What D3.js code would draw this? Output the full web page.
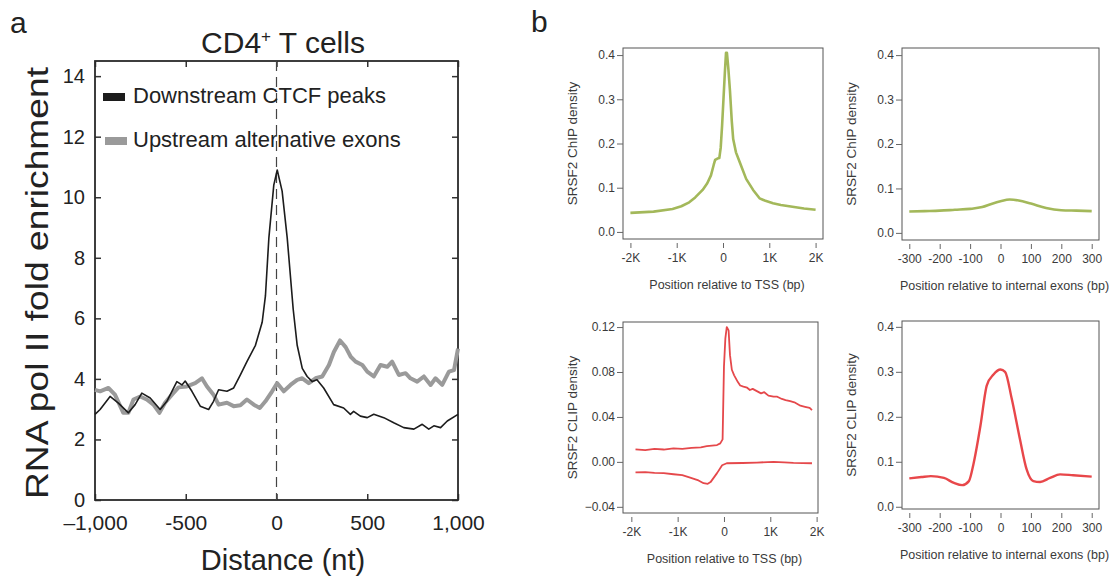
<!DOCTYPE html>
<meta charset="utf-8">
<style>
body { margin: 0; background: #fff; }
svg { font-family: "Liberation Sans", Arial, Helvetica, sans-serif; }
.pa text { fill: #222; }
.pb text { fill: #3a3a3a; }
</style>
<svg width="1110" height="579"></svg>
<script src="https://d3js.org/d3.v7.min.js"></script>
<script>

// ---- panel a: RNA pol II enrichment, CD4+ T cells ----
var ctcfPeaks = [
  [-1000,2.83],[-972,2.99],[-917,3.42],[-871,3.2],[-816,2.88],[-779,3.15],[-742,3.53],[-696,3.37],
  [-641,2.99],[-604,3.26],[-549,3.91],[-521,3.8],[-503,3.93],[-466,3.59],[-420,3.1],[-374,2.99],
  [-347,3.26],[-319,3.64],[-273,3.59],[-236,3.7],[-199,4.13],[-163,4.57],[-116,5.11],[-79,5.87],
  [-61,6.74],[-42,8.66],[-15,10.4],[4,10.9],[31,10.2],[59,8.66],[92,6.3],[114,5.11],[142,4.35],
  [169,4.08],[197,3.91],[223,3.97],[260,3.7],[315,3.15],[370,3.04],[407,2.83],[425,2.93],[462,2.77],
  [500,2.72],[536,2.83],[591,2.72],[646,2.55],[701,2.39],[757,2.34],[803,2.5],[839,2.34],[867,2.45],
  [904,2.39],[941,2.61],[1000,2.83]
];
var altExons = [
  [-1000,3.64],[-972,3.59],[-926,3.7],[-890,3.48],[-844,2.88],[-816,2.88],[-788,3.32],[-751,3.42],
  [-715,3.32],[-678,3.15],[-645,2.88],[-614,3.21],[-576,3.48],[-540,3.72],[-494,3.75],[-448,3.86],
  [-411,4.02],[-383,3.75],[-347,3.48],[-319,3.15],[-273,3.21],[-236,3.1],[-199,3.13],[-163,3.32],
  [-125,3.15],[-92,3.04],[-61,3.26],[-24,3.59],[4,3.86],[40,3.59],[77,3.8],[114,3.97],[142,4.02],
  [178,3.86],[215,4.02],[252,4.08],[289,4.46],[316,4.89],[350,5.27],[381,5.05],[409,4.73],[436,4.57],
  [473,4.46],[500,4.24],[536,4.08],[573,4.46],[610,4.4],[637,4.57],[674,4.13],[711,4.19],[738,4.02],
  [775,3.91],[812,4.08],[849,3.8],[876,4.02],[913,3.8],[950,4.24],[978,4.29],[1000,5.0]
];
var aXTicks = [-1000, -500, 0, 500, 1000];
var aXLabels = ["\u20131,000", "-500", "0", "500", "1,000"];
var aYTicks = [0, 2, 4, 6, 8, 10, 12, 14];
var aLegend = ["Downstream CTCF peaks", "Upstream alternative exons"];

// ---- panel b: SRSF2 ChIP / CLIP density ----
var chipTss = [
  [-2000,0.043],[-1500,0.046],[-1090,0.052],[-900,0.058],[-730,0.067],[-600,0.078],[-440,0.095],
  [-340,0.11],[-260,0.128],[-200,0.152],[-170,0.163],[-120,0.166],[-80,0.167],[-50,0.19],[-20,0.24],
  [10,0.3],[40,0.36],[65,0.405],[85,0.405],[115,0.37],[150,0.32],[190,0.25],[220,0.21],[280,0.18],
  [360,0.158],[500,0.12],[650,0.095],[790,0.076],[900,0.071],[1080,0.065],[1250,0.061],[1500,0.057],
  [1750,0.053],[2000,0.05]
];
var chipExon = [
  [-300,0.048],[-250,0.049],[-200,0.05],[-150,0.052],[-100,0.054],[-60,0.058],[-30,0.065],[0,0.071],
  [30,0.075],[60,0.073],[100,0.066],[150,0.056],[200,0.051],[250,0.05],[300,0.049]
];
var clipTssSense = [
  [-1910,0.0112],[-1700,0.0105],[-1500,0.0115],[-1300,0.011],[-1090,0.0121],[-900,0.0115],
  [-700,0.0125],[-500,0.013],[-370,0.014],[-150,0.015],[-80,0.0165],[-30,0.02],[0,0.085],[30,0.11],
  [60,0.12],[100,0.117],[130,0.095],[170,0.082],[220,0.077],[300,0.071],[350,0.068],[420,0.067],
  [500,0.066],[560,0.064],[620,0.065],[710,0.063],[800,0.061],[870,0.062],[960,0.059],[1070,0.058],
  [1150,0.058],[1250,0.056],[1330,0.055],[1430,0.054],[1520,0.053],[1650,0.05],[1750,0.049],
  [1850,0.048],[1900,0.046]
];
var clipTssAnti = [
  [-1910,-0.0094],[-1700,-0.0092],[-1500,-0.0098],[-1300,-0.01],[-1090,-0.011],[-900,-0.0118],
  [-730,-0.014],[-550,-0.0165],[-440,-0.019],[-350,-0.0195],[-290,-0.018],[-150,-0.01],[-40,-0.003],
  [60,-0.0012],[400,-0.001],[710,-0.0006],[1070,0],[1300,-0.0004],[1500,-0.0008],[1900,-0.0012]
];
var clipExon = [
  [-300,0.063],[-260,0.066],[-229,0.068],[-186,0.064],[-153,0.053],[-126,0.048],[-104,0.057],
  [-88,0.098],[-66,0.18],[-45,0.27],[-23,0.294],[0,0.305],[15,0.3],[37,0.24],[64,0.15],[86,0.083],
  [108,0.057],[130,0.055],[163,0.064],[196,0.072],[239,0.07],[300,0.067]
];
var tssTicks = [-2000, -1000, 0, 1000, 2000];
var tssLabels = ["-2K", "-1K", "0", "1K", "2K"];
var exonTicks = [-300, -200, -100, 0, 100, 200, 300];
var chipYTicks = [0, 0.1, 0.2, 0.3, 0.4];
var clipTssYTicks = [-0.04, 0, 0.04, 0.08, 0.12];

var svg = d3.select("svg");

// panel labels
svg.append("text").attr("x", 10).attr("y", 33).style("font-size", "30px").style("fill", "#222").text("a");
svg.append("text").attr("x", 531).attr("y", 32).style("font-size", "30px").style("fill", "#222").text("b");

// ================= panel a =================
var pa = svg.append("g").attr("class", "pa");
var ax = {left: 95, right: 458, top: 61, bottom: 500};

var x = d3.scaleLinear().domain([-1000, 1000]).range([ax.left, ax.right]);
var y = d3.scaleLinear().domain([0, 14.5]).range([ax.bottom, ax.top]);

var title = pa.append("text")
    .attr("x", 283).attr("y", 53)
    .attr("text-anchor", "middle")
    .style("font-size", "30px");
title.append("tspan").text("CD4");
title.append("tspan").attr("dy", -11).style("font-size", "17px").text("+");
title.append("tspan").attr("dy", 11).text(" T cells");

// inward ticks on all four sides
pa.append("g")
    .attr("transform", "translate(0," + ax.bottom + ")")
    .call(d3.axisBottom(x).tickValues(aXTicks).tickSize(-6).tickPadding(15)
      .tickFormat(function(d, i) { return aXLabels[i]; }))
    .call(function(g) {
      g.select(".domain").remove();
      g.selectAll("text").style("font-size", "21px").attr("fill", "#222");
      g.selectAll("line").attr("stroke", "#333").attr("stroke-width", 1.5);
    });
pa.append("g")
    .attr("transform", "translate(0," + ax.top + ")")
    .call(d3.axisTop(x).tickValues(aXTicks).tickSize(-6).tickFormat(""))
    .call(function(g) {
      g.select(".domain").remove();
      g.selectAll("line").attr("stroke", "#333").attr("stroke-width", 1.5);
    });
pa.append("g")
    .attr("transform", "translate(" + ax.left + ",0)")
    .call(d3.axisLeft(y).tickValues(aYTicks).tickSize(-6).tickPadding(10).tickFormat(d3.format("d")))
    .call(function(g) {
      g.select(".domain").remove();
      g.selectAll("text").style("font-size", "20px").attr("fill", "#222");
      g.selectAll("line").attr("stroke", "#333").attr("stroke-width", 1.5);
    });
pa.append("g")
    .attr("transform", "translate(" + ax.right + ",0)")
    .call(d3.axisRight(y).tickValues(aYTicks).tickSize(-6).tickFormat(""))
    .call(function(g) {
      g.select(".domain").remove();
      g.selectAll("line").attr("stroke", "#333").attr("stroke-width", 1.5);
    });

pa.append("rect")
    .attr("x", ax.left).attr("y", ax.top)
    .attr("width", ax.right - ax.left).attr("height", ax.bottom - ax.top)
    .attr("fill", "none").attr("stroke", "#2a2a2a").attr("stroke-width", 1.8);

// dashed line at 0
pa.append("line")
    .attr("x1", x(0)).attr("x2", x(0))
    .attr("y1", ax.top).attr("y2", ax.bottom)
    .attr("stroke", "#444").attr("stroke-width", 1.2)
    .attr("stroke-dasharray", "10,6");

var lineA = d3.line().x(function(d) { return x(d[0]); }).y(function(d) { return y(d[1]); });

pa.append("path").datum(altExons)
    .attr("d", lineA).attr("fill", "none")
    .attr("stroke", "#9a9a9a").attr("stroke-width", 4).attr("stroke-linejoin", "round");
pa.append("path").datum(ctcfPeaks)
    .attr("d", lineA).attr("fill", "none")
    .attr("stroke", "#1c1c1c").attr("stroke-width", 1.6).attr("stroke-linejoin", "round");

// legend
var legColors = ["#1c1c1c", "#9a9a9a"];
var leg = pa.selectAll(".leg").data(aLegend).enter().append("g").attr("class", "leg")
    .attr("transform", function(d, i) { return "translate(103," + (97 + i * 44) + ")"; });
leg.append("rect").attr("x", function(d, i) { return i ? 2 : 0; }).attr("y", -4)
    .attr("width", 22).attr("height", 8)
    .attr("fill", function(d, i) { return legColors[i]; });
leg.append("text").attr("x", 30).attr("y", 6)
    .style("font-size", "22px").text(function(d) { return d; });

// axis titles
pa.append("text")
    .attr("transform", "translate(48,283) rotate(-90)")
    .attr("text-anchor", "middle")
    .attr("textLength", 432).attr("lengthAdjust", "spacingAndGlyphs")
    .style("font-size", "31px")
    .text("RNA pol II fold enrichment");
pa.append("text")
    .attr("x", 283).attr("y", 570)
    .attr("text-anchor", "middle")
    .style("font-size", "29px")
    .text("Distance (nt)");

// ================= panel b =================
var pb = svg.append("g").attr("class", "pb");

function subplot(o) {
  var g = pb.append("g");
  var sx = d3.scaleLinear().domain(o.xd).range([o.l, o.r]);
  var sy = d3.scaleLinear().domain(o.yd).range([o.b, o.t]);

  g.append("rect")
      .attr("x", o.l).attr("y", o.t).attr("width", o.r - o.l).attr("height", o.b - o.t)
      .attr("fill", "none").attr("stroke", "#555").attr("stroke-width", 1);

  g.append("g")
      .attr("transform", "translate(" + o.l + ",0)")
      .call(d3.axisLeft(sy).tickValues(o.yt).tickSize(6).tickPadding(2).tickFormat(o.yf))
      .call(function(a) {
        a.select(".domain").remove();
        a.selectAll("line").attr("stroke", "#666");
        a.selectAll("text").style("font-size", "12px").attr("fill", "#3a3a3a");
      });

  g.append("g")
      .attr("transform", "translate(0," + (o.b + 4) + ")")
      .call(d3.axisBottom(sx).tickValues(o.xt).tickSize(5).tickPadding(5)
        .tickFormat(function(d, i) { return o.xl ? o.xl[i] : d; }))
      .call(function(a) {
        a.select(".domain").remove();
        a.selectAll("line").attr("stroke", "#666");
        a.selectAll("text").style("font-size", "12px").attr("fill", "#3a3a3a");
      });

  g.append("text")
      .attr("x", (o.l + o.r) / 2 + 4).attr("y", o.b + 50)
      .attr("text-anchor", "middle").style("font-size", "12.5px")
      .text(o.xTitle);
  g.append("text")
      .attr("transform", "translate(" + (o.l - 46) + "," + ((o.t + o.b) / 2) + ") rotate(-90)")
      .attr("text-anchor", "middle").style("font-size", "13.5px")
      .text(o.yTitle);

  var ln = d3.line().curve(o.curve || d3.curveLinear)
      .x(function(d) { return sx(d[0]); }).y(function(d) { return sy(d[1]); });
  o.series.forEach(function(s) {
    g.append("path").datum(s)
        .attr("d", ln).attr("fill", "none")
        .attr("stroke", o.color).attr("stroke-width", o.width)
        .attr("stroke-linejoin", "round");
  });
}

var fmt1 = d3.format(".1f"), fmt2 = d3.format(".2f");

subplot({l: 623, r: 823, t: 48, b: 239, xd: [-2160, 2160], yd: [-0.016, 0.416],
  xt: tssTicks, xl: tssLabels, yt: chipYTicks, yf: fmt1,
  xTitle: "Position relative to TSS (bp)", yTitle: "SRSF2 ChIP density",
  series: [chipTss], color: "#a3b85a", width: 2.6});

subplot({l: 902, r: 1099, t: 48, b: 240, xd: [-324, 324], yd: [-0.016, 0.416],
  xt: exonTicks, yt: chipYTicks, yf: fmt1, curve: d3.curveMonotoneX,
  xTitle: "Position relative to internal exons (bp)", yTitle: "SRSF2 ChIP density",
  series: [chipExon], color: "#a3b85a", width: 2.6});

subplot({l: 623, r: 818, t: 322, b: 513, xd: [-2180, 2030], yd: [-0.0455, 0.1245],
  xt: tssTicks, xl: tssLabels, yt: clipTssYTicks, yf: fmt2,
  xTitle: "Position relative to TSS (bp)", yTitle: "SRSF2 CLIP density",
  series: [clipTssSense, clipTssAnti], color: "#e5484b", width: 1.8});

subplot({l: 902, r: 1099, t: 321, b: 509, xd: [-324, 324], yd: [-0.005, 0.413],
  xt: exonTicks, yt: chipYTicks, yf: fmt1, curve: d3.curveMonotoneX,
  xTitle: "Position relative to internal exons (bp)", yTitle: "SRSF2 CLIP density",
  series: [clipExon], color: "#e8474a", width: 2.4});

</script>
